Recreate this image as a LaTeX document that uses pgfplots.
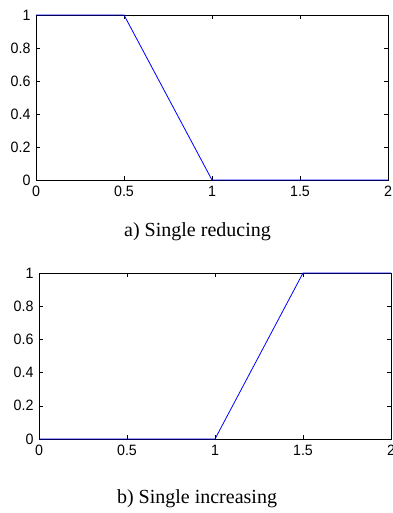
\documentclass[border=0pt]{standalone}
\usepackage{pgfplots}
\pgfplotsset{compat=1.18}
\usepackage{fontspec}
\setmainfont{Liberation Serif}
\newfontfamily\arial[FakeStretch=0.95]{Liberation Sans}
\pgfplotsset{
  mstyle/.style={
    scale only axis,
    width=352pt, height=165pt,
    xmin=0, xmax=2, ymin=0, ymax=1,
    xtick={0,0.5,1,1.5,2},
    xticklabels={0,0.5,1,1.5,2},
    ytick={0,0.2,0.4,0.6,0.8,1},
    yticklabels={0,0.2,0.4,0.6,0.8,1},
    tick align=inside,
    major tick length=4pt,
    tick style={black, line width=0.6pt},
    axis line style={black, line width=0.7pt},
    tick label style={font=\arial\fontsize{15}{17}\selectfont},
    /pgf/number format/assume math mode=true,
    xticklabel style={yshift=-2.5pt},
    yticklabel style={xshift=-2pt},
    clip=false,
  }
}
\begin{document}
\begin{tikzpicture}
\useasboundingbox (0pt,0pt) rectangle (392pt,-513pt);
\clip (0pt,0pt) rectangle (392pt,-513pt);
\begin{axis}[mstyle, at={(36pt,-180pt)}, anchor=south west]
\addplot[blue, line width=0.8pt] coordinates {(0,1) (0.5,1) (1,0) (2,0)};
\end{axis}
\node[font=\fontsize{20}{23}\selectfont] at (197.5pt,-232pt) {a) Single reducing};
\begin{axis}[mstyle, height=166pt, at={(39pt,-439pt)}, anchor=south west]
\addplot[blue, line width=0.8pt] coordinates {(0,0) (1,0) (1.5,1) (2,1)};
\end{axis}
\node[font=\fontsize{20}{23}\selectfont] at (197pt,-499pt) {b) Single increasing};
\end{tikzpicture}
\end{document}
